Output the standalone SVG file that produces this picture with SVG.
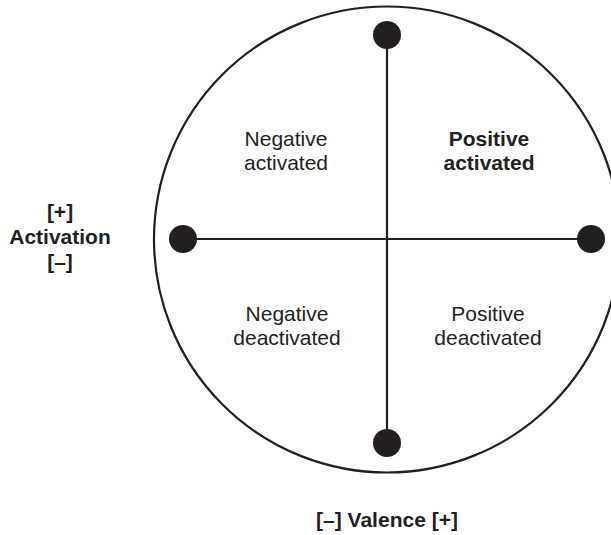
<svg xmlns="http://www.w3.org/2000/svg" width="611" height="535" viewBox="0 0 611 535">
<style>
.t{font-family:"Liberation Sans",Arial,Helvetica,sans-serif;font-size:21px;fill:#231f20;text-anchor:middle}
.b{font-weight:bold}
.ln{stroke:#231f20;stroke-width:2.2;fill:none}
.dot{fill:#231f20}
</style>
<rect width="611" height="535" fill="#fff"/>
<g id="circle"><circle class="ln" cx="387" cy="239.5" r="233"/></g>
<g id="connectors">
<line class="ln" x1="387" y1="35" x2="387" y2="443"/>
<line class="ln" x1="183" y1="239" x2="591" y2="239"/>
</g>
<g id="dot-top"><circle class="dot" cx="387" cy="35" r="14"/></g>
<g id="dot-bottom"><circle class="dot" cx="387" cy="443" r="14"/></g>
<g id="dot-left"><circle class="dot" cx="183" cy="239" r="14"/></g>
<g id="dot-right"><circle class="dot" cx="591" cy="239" r="14"/></g>
<g id="q-neg-act"><text class="t" x="286" y="146">Negative</text><text class="t" x="286" y="170">activated</text></g>
<g id="q-pos-act"><text class="t b" x="489" y="146">Positive</text><text class="t b" x="489" y="170">activated</text></g>
<g id="q-neg-deact"><text class="t" x="287" y="321">Negative</text><text class="t" x="287" y="345">deactivated</text></g>
<g id="q-pos-deact"><text class="t" x="488" y="321">Positive</text><text class="t" x="488" y="345">deactivated</text></g>
<g id="label-activation"><text class="t b" x="60" y="219">[+]</text><text class="t b" x="60" y="244">Activation</text><text class="t b" x="60" y="269">[–]</text></g>
<g id="label-valence"><text class="t b" x="387" y="527">[–] Valence [+]</text></g>
</svg>
